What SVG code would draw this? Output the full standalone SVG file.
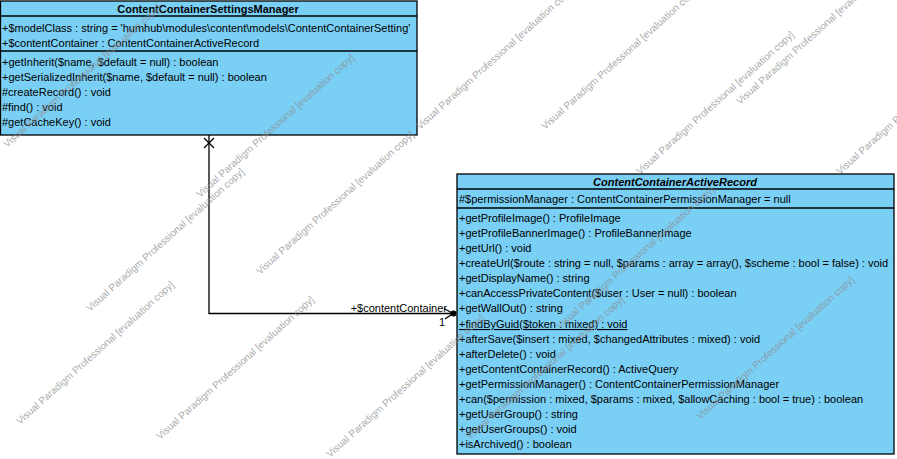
<svg xmlns="http://www.w3.org/2000/svg" width="897" height="459" viewBox="0 0 897 459">
<style>
.box{fill:#7ACFF5;stroke:#000;stroke-width:1.3}
.sep{stroke:#000;stroke-width:1.3}
text{font-family:"Liberation Sans",Arial,sans-serif;font-size:11px;fill:#000}
.hdr{font-weight:bold;text-anchor:middle}
.abs{font-style:italic}
.wm{font-size:10px;fill:#8c8c8c;fill-opacity:0.75}
.ln{stroke:#000;stroke-width:1.3;fill:none}
</style>
<rect width="897" height="459" fill="#fff"/>
<g id="ContentContainerSettingsManager">
<rect class="box" x="0.5" y="1" width="416.5" height="134"/>
<line class="sep" x1="0" y1="16" x2="417" y2="16"/>
<line class="sep" x1="0" y1="51" x2="417" y2="51"/>
<text class="hdr" x="208" y="13">ContentContainerSettingsManager</text>
<text x="2" y="32">+$modelClass : string = 'humhub\modules\content\models\ContentContainerSetting'</text>
<text x="2" y="47">+$contentContainer : ContentContainerActiveRecord</text>
<text x="2" y="66">+getInherit($name, $default = null) : boolean</text>
<text x="2" y="81">+getSerializedInherit($name, $default = null) : boolean</text>
<text x="2" y="96">#createRecord() : void</text>
<text x="2" y="111">#find() : void</text>
<text x="2" y="126">#getCacheKey() : void</text>
</g>
<g id="ContentContainerActiveRecord">
<rect class="box" x="457" y="174" width="437" height="280"/>
<line class="sep" x1="457" y1="189" x2="894" y2="189"/>
<line class="sep" x1="457" y1="208" x2="894" y2="208"/>
<text class="hdr abs" x="675" y="186">ContentContainerActiveRecord</text>
<text x="459" y="203">#$permissionManager : ContentContainerPermissionManager = null</text>
<text x="459" y="222">+getProfileImage() : ProfileImage</text>
<text x="459" y="237">+getProfileBannerImage() : ProfileBannerImage</text>
<text x="459" y="252">+getUrl() : void</text>
<text x="459" y="267">+createUrl($route : string = null, $params : array = array(), $scheme : bool = false) : void</text>
<text x="459" y="282">+getDisplayName() : string</text>
<text x="459" y="297">+canAccessPrivateContent($user : User = null) : boolean</text>
<text x="459" y="312">+getWallOut() : string</text>
<text x="459" y="328" text-decoration="underline">+findByGuid($token : mixed) : void</text>
<text x="459" y="343">+afterSave($insert : mixed, $changedAttributes : mixed) : void</text>
<text x="459" y="358">+afterDelete() : void</text>
<text x="459" y="373">+getContentContainerRecord() : ActiveQuery</text>
<text x="459" y="388">+getPermissionManager() : ContentContainerPermissionManager</text>
<text x="459" y="403">+can($permission : mixed, $params : mixed, $allowCaching : bool = true) : boolean</text>
<text x="459" y="418">+getUserGroup() : string</text>
<text x="459" y="433">+getUserGroups() : void</text>
<text x="459" y="448">+isArchived() : boolean</text>
</g>
<g id="connectors">
<polyline class="ln" points="209,135 209,313.5 453,313.5"/>
<line class="ln" x1="204" y1="138" x2="214" y2="148"/>
<line class="ln" x1="204" y1="148" x2="214" y2="138"/>
<polyline class="ln" points="444,308.5 453,313.5 445,319"/>
<circle cx="453.5" cy="313.5" r="3" fill="#000"/>
<text x="447" y="311.5" text-anchor="end">+$contentContainer</text>
<text x="439" y="326">1</text>
</g>
<g id="watermarks">
<text class="wm" transform="translate(7,148) rotate(-42)">Visual Paradigm Professional [evaluation copy]</text>
<text class="wm" transform="translate(200,198) rotate(-42)">Visual Paradigm Professional [evaluation copy]</text>
<text class="wm" transform="translate(90,312) rotate(-42)">Visual Paradigm Professional [evaluation copy]</text>
<text class="wm" transform="translate(260,275) rotate(-42)">Visual Paradigm Professional [evaluation copy]</text>
<text class="wm" transform="translate(420,130) rotate(-42)">Visual Paradigm Professional [evaluation copy]</text>
<text class="wm" transform="translate(545,130) rotate(-42)">Visual Paradigm Professional [evaluation copy]</text>
<text class="wm" transform="translate(640,175) rotate(-42)">Visual Paradigm Professional [evaluation copy]</text>
<text class="wm" transform="translate(740,105) rotate(-42)">Visual Paradigm Professional [evaluation copy]</text>
<text class="wm" transform="translate(160,440) rotate(-42)">Visual Paradigm Professional [evaluation copy]</text>
<text class="wm" transform="translate(20,425) rotate(-42)">Visual Paradigm Professional [evaluation copy]</text>
<text class="wm" transform="translate(330,458) rotate(-42)">Visual Paradigm Professional [evaluation copy]</text>
<text class="wm" transform="translate(840,175) rotate(-42)">Visual Paradigm Professional [evaluation copy]</text>
<text class="wm" transform="translate(560,330) rotate(-42)">Visual Paradigm Professional [evaluation copy]</text>
<text class="wm" transform="translate(700,420) rotate(-42)">Visual Paradigm Professional [evaluation copy]</text>
<text class="wm" transform="translate(470,440) rotate(-42)">Visual Paradigm Professional [evaluation copy]</text>
</g>
</svg>
